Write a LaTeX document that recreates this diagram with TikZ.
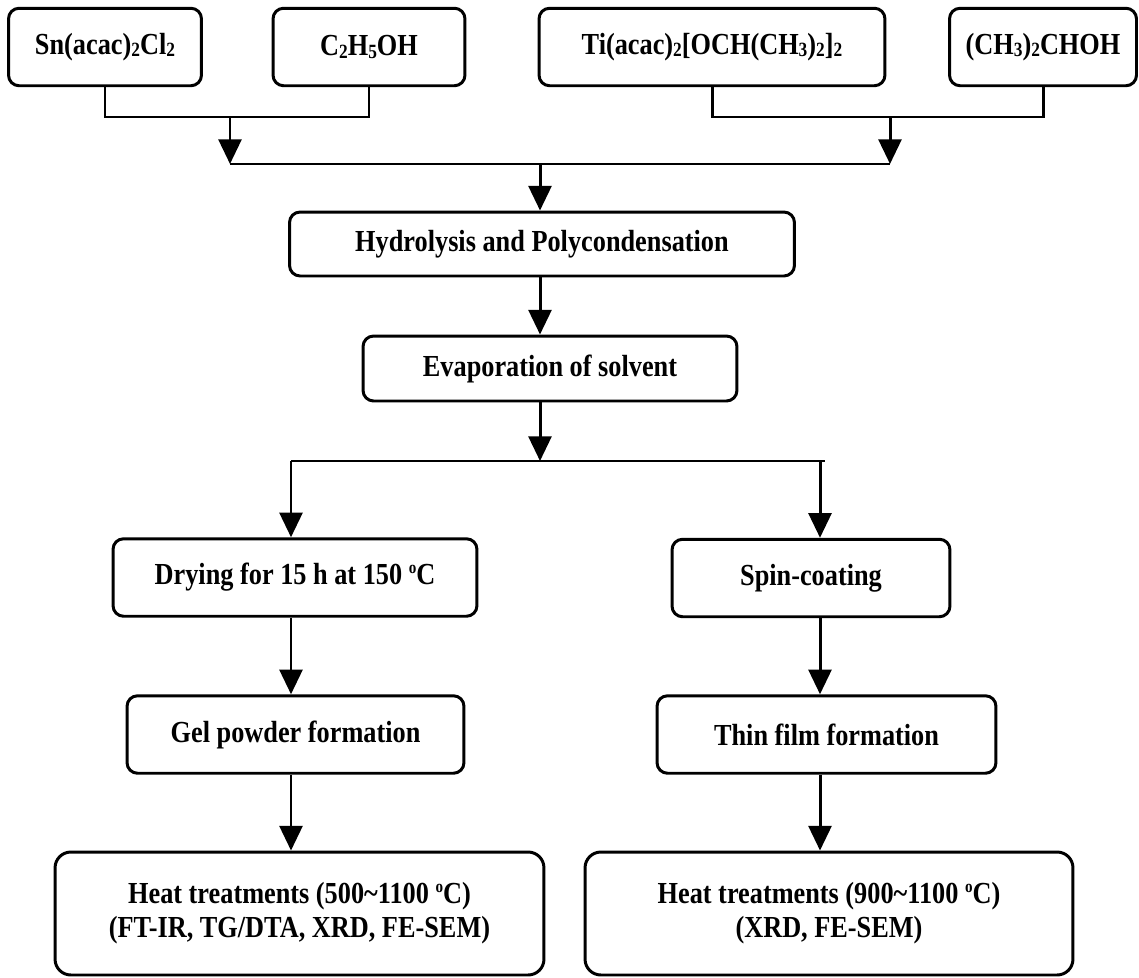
\documentclass[tikz,border=0pt]{standalone}
\usepackage{fontspec}
\setmainfont{Liberation Serif}[FakeStretch=0.86]
\usetikzlibrary{arrows.meta}
\newcommand{\chemsub}[1]{\raisebox{-0.15ex}{\fontsize{11.5}{11.5}\selectfont #1}}
\newcommand{\degsup}{\raisebox{0.8ex}{\fontsize{10}{10}\selectfont o}}
\tikzset{
	solBox/.style={
		draw,
		line width=1.7pt,
		rounded corners=6pt,
		align=center,
		inner sep=0pt,
		minimum height=1.55cm,
		font=\fontsize{17.4}{19.5}\selectfont\bfseries
	},
	solHeat/.style={solBox, rounded corners=9pt, minimum height=2.46cm},
	solLine/.style={line width=1.7pt},
	solFlow/.style={solLine, -{Triangle[width=13pt,length=14pt]}}
}

\begin{document}
\begin{tikzpicture}[x=0.02cm, y=-0.02cm]
	\useasboundingbox (0,0) rectangle (1139,977);

	% Starting materials
	\node[solBox, minimum width=3.86cm] (sn) at (105,47) {Sn(acac)\chemsub{2}Cl\chemsub{2}};
	\node[solBox, minimum width=3.84cm] (eth) at (369,47) {C\chemsub{2}H\chemsub{5}OH};
	\node[solBox, minimum width=6.92cm] (ti) at (712,47) {Ti(acac)\chemsub{2}[OCH(CH\chemsub{3})\chemsub{2}]\chemsub{2}};
	\node[solBox, minimum width=3.74cm] (ipa) at (1043,47) {(CH\chemsub{3})\chemsub{2}CHOH};

	% Sol preparation
	\node[solBox, minimum width=10.1cm, minimum height=1.28cm] (hydro) at (542,244) {Hydrolysis and Polycondensation};
	\node[solBox, minimum width=7.48cm, minimum height=1.3cm] (evap) at (550,368.5) {Evaporation of solvent};

	% Powder route
	\node[solBox, minimum width=7.28cm] (dry) at (295,577.5) {Drying for 15 h at 150 \degsup C};
	\node[solBox, minimum width=6.74cm] (gel) at (295.5,734.5) {Gel powder formation};
	\node[solHeat, minimum width=9.78cm] (heatA) at (299.5,913.5) {Heat treatments (500\textasciitilde 1100 \degsup C)\\(FT-IR, TG/DTA, XRD, FE-SEM)};

	% Film route
	\node[solBox, minimum width=5.56cm] (spin) at (811,578) {Spin-coating};
	\node[solBox, minimum width=6.78cm] (thin) at (826.5,734.5) {Thin film formation};
	\node[solHeat, minimum width=9.76cm] (heatB) at (829,913.5) {Heat treatments (900\textasciitilde 1100 \degsup C)\\(XRD, FE-SEM)};

	% Junctions
	\coordinate (snJoin) at (230,117);
	\coordinate (tiJoin) at (890,117);
	\coordinate (mix) at (540,164);
	\coordinate (split) at (540,461);
	\coordinate (colA) at (291,461);
	\coordinate (colB) at (820,461);

	% Flows
	\draw[solLine] (sn.south) |- (snJoin) -| (eth.south);
	\draw[solLine] (ti.south) |- (tiJoin) -| (ipa.south);
	\draw[solFlow] (snJoin) -- (snJoin |- mix);
	\draw[solFlow] (tiJoin) -- (tiJoin |- mix);
	\draw[solLine] (snJoin |- mix) -- (tiJoin |- mix);
	\draw[solFlow] (mix) -- (mix |- hydro.north);
	\draw[solFlow] (mix |- hydro.south) -- (mix |- evap.north);
	\draw[solFlow] (mix |- evap.south) -- (split);
	\draw[solLine] (colA) -- ([xshift=5*0.02cm]colB);

	\draw[solFlow] (colA) -- (colA |- dry.north);
	\draw[solFlow] (colA |- dry.south) -- (colA |- gel.north);
	\draw[solFlow] (colA |- gel.south) -- (colA |- heatA.north);

	\draw[solFlow] (colB) -- (colB |- spin.north);
	\draw[solFlow] (colB |- spin.south) -- (colB |- thin.north);
	\draw[solFlow] (colB |- thin.south) -- (colB |- heatB.north);

\end{tikzpicture}
\end{document}
